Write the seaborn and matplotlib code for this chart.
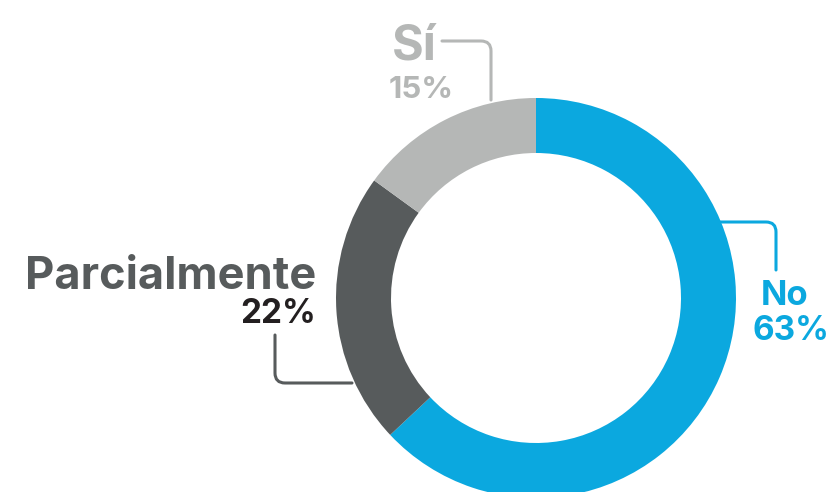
import numpy as np
import seaborn as sns
import matplotlib.pyplot as plt
from matplotlib.patches import FancyArrowPatch

# Data
categories = ['No', 'Parcialmente', 'Sí']
shares = [63, 22, 15]
pct_labels = ['63%', '22%', '15%']

sns.set_theme(style="white")
plt.rcParams['font.family'] = ['Inter', 'DejaVu Sans']

colors = ['#0BA8DF', '#575B5C', '#B5B7B6']
pct_colors = ['#0BA8DF', '#231F20', '#B5B7B6']

W, H = 830, 492
fig = plt.figure(figsize=(W / 100, H / 100), dpi=100)
ax = fig.add_axes([0, 0, 1, 1])

# donut, pixel coordinates with y measured from the top
cx, cy, r = 536, 298, 200
ax.pie(shares, colors=colors, startangle=90, counterclock=False,
       radius=r, center=(cx, H - cy),
       wedgeprops=dict(width=55, linewidth=0))
ax.set_xlim(0, W)
ax.set_ylim(0, H)
ax.set_aspect('equal')
ax.axis('off')


def Y(y):
    return H - y


def connector(p0, p1, a0, a1, color):
    arr = FancyArrowPatch((p0[0], Y(p0[1])), (p1[0], Y(p1[1])),
                          arrowstyle='-', shrinkA=0, shrinkB=0,
                          connectionstyle=f"angle,angleA={a0},angleB={a1},rad=10",
                          color=color, lw=2.2, zorder=5)
    ax.add_patch(arr)


# Sí
ax.text(392, Y(59), categories[2], fontsize=35, fontweight='bold',
        color=colors[2], ha='left', va='baseline')
ax.text(389, Y(98), pct_labels[2], fontsize=22.5, fontweight='bold',
        color=pct_colors[2], ha='left', va='baseline')
connector((442, 41), (491, 100), 0, 90, colors[2])

# Parcialmente
ax.text(316, Y(289), categories[1], fontsize=32.5, fontweight='bold',
        color=colors[1], ha='right', va='baseline')
ax.text(316, Y(323), pct_labels[1], fontsize=24, fontweight='bold',
        color=pct_colors[1], ha='right', va='baseline')
connector((275, 335), (352, 383), 90, 0, colors[1])

# No
ax.text(761, Y(305), categories[0], fontsize=25, fontweight='bold',
        color=colors[0], ha='left', va='baseline')
ax.text(829, Y(340), pct_labels[0], fontsize=24, fontweight='bold',
        color=pct_colors[0], ha='right', va='baseline')
connector((693, 222), (776, 270), 0, 90, colors[0])

fig.savefig('out.png', dpi=100)
